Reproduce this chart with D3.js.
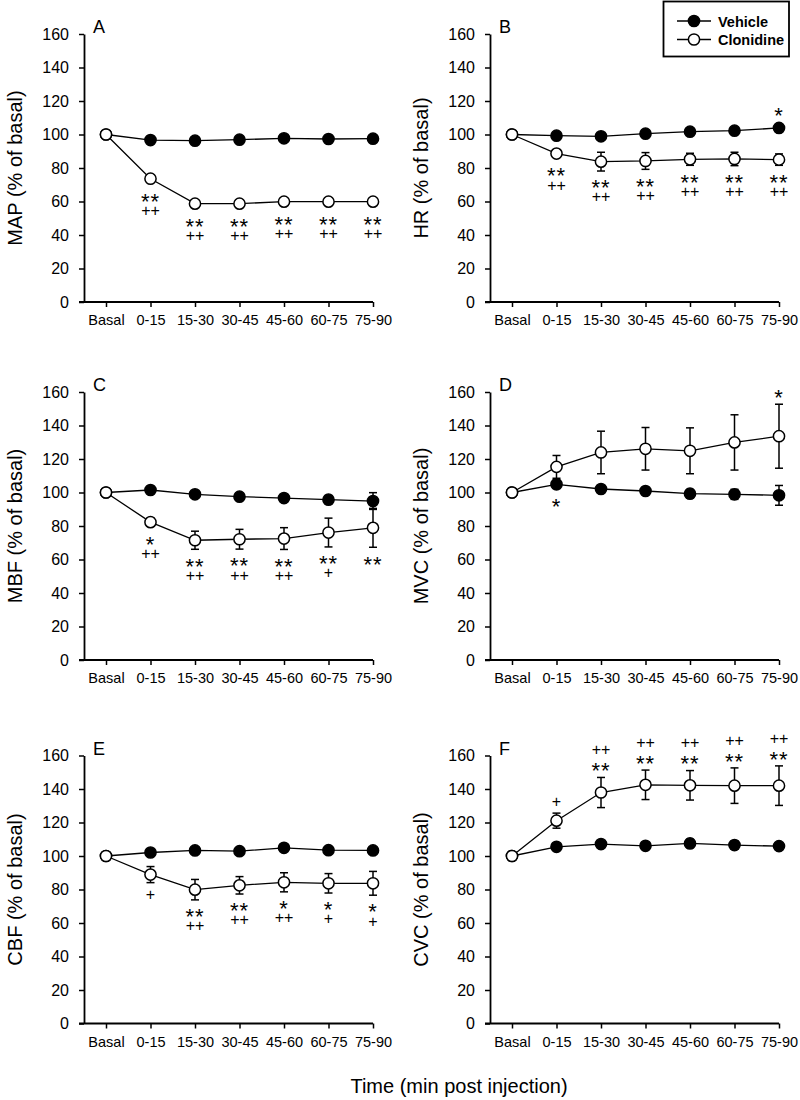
<!DOCTYPE html>
<html>
<head>
<meta charset="utf-8">
<script src="https://cdn.jsdelivr.net/npm/d3@7"></script>
<style>
  html, body { margin: 0; padding: 0; background: #fff; }
  svg { display: block; }
  text { font-family: "Liberation Sans", Arial, Helvetica, sans-serif; fill: #000; }
</style>
</head>
<body>
<script>
// ---------------- DATA ----------------
const categories = ["Basal", "0-15", "15-30", "30-45", "45-60", "60-75", "75-90"];
const yTicks = [0, 20, 40, 60, 80, 100, 120, 140, 160];
const panelLetters = ["A", "B", "C", "D", "E", "F"];
const yLabels = ["MAP (% of basal)", "HR (% of basal)", "MBF (% of basal)",
                 "MVC (% of basal)", "CBF (% of basal)", "CVC (% of basal)"];
const seriesNames = ["Vehicle", "Clonidine"];
const xTitle = "Time (min post injection)";

// Panel A – MAP
const vehicleMAP      = [100, 96.7, 96.3, 96.9, 97.7, 97.3, 97.5];
const vehicleMAPErr   = [0, 1, 1, 1, 1, 1, 1];
const clonidineMAP    = [100, 73.6, 58.7, 58.7, 59.9, 59.9, 59.9];
const clonidineMAPErr = [0, 2, 1.5, 1.5, 1.5, 1.5, 1.5];
const clonidineMAPSig = [[], ["**", "++"], ["**", "++"], ["**", "++"], ["**", "++"], ["**", "++"], ["**", "++"]];

// Panel B – HR
const vehicleHR      = [100, 99.3, 98.9, 100.5, 101.7, 102.3, 103.9];
const vehicleHRErr   = [0, 1.2, 1.5, 1.5, 1.5, 1.5, 1.5];
const clonidineHR    = [100, 88.6, 83.8, 84.2, 85.2, 85.4, 85.0];
const clonidineHRErr = [0, 2.2, 5.6, 5.0, 3.6, 4.0, 3.4];
const vehicleHRSig   = [[], [], [], [], [], [], ["*"]];
const clonidineHRSig = [[], ["**", "++"], ["**", "++"], ["**", "++"], ["**", "++"], ["**", "++"], ["**", "++"]];

// Panel C – MBF
const vehicleMBF      = [100, 101.5, 98.9, 97.5, 96.7, 95.7, 94.9];
const vehicleMBFErr   = [0, 1.5, 1.5, 1.5, 2, 2.5, 5];
const clonidineMBF    = [100, 82.3, 71.5, 72.1, 72.5, 76.1, 78.9];
const clonidineMBFErr = [0, 2.5, 5.4, 5.9, 6.5, 8.6, 11.6];
const clonidineMBFSig = [[], ["*", "++"], ["**", "++"], ["**", "++"], ["**", "++"], ["**", "+"], ["**"]];

// Panel D – MVC
const vehicleMVC      = [100, 104.9, 102.1, 100.9, 99.3, 98.9, 98.3];
const vehicleMVCErr   = [0, 2.5, 1.5, 1.5, 2.5, 3, 5.9];
const clonidineMVC    = [100, 115.3, 123.9, 126.1, 124.9, 129.9, 133.6];
const clonidineMVCErr = [0, 6.8, 12.7, 12.7, 13.7, 16.5, 19.1];
const vehicleMVCSig   = [[], ["*"], [], [], [], [], []];
const clonidineMVCSig = [[], [], [], [], [], [], ["*"]];

// Panel E – CBF
const vehicleCBF      = [100, 102.1, 103.3, 102.9, 104.9, 103.5, 103.3];
const vehicleCBFErr   = [0, 1.2, 1.5, 1.5, 2, 1.5, 1.5];
const clonidineCBF    = [100, 88.9, 79.9, 82.5, 84.3, 83.7, 83.7];
const clonidineCBFErr = [0, 4.8, 6.1, 5.2, 5.7, 5.8, 7.1];
const clonidineCBFSig = [[], ["+"], ["**", "++"], ["**", "++"], ["*", "++"], ["*", "+"], ["*", "+"]];

// Panel F – CVC
const vehicleCVC      = [100, 105.5, 107.1, 106.1, 107.5, 106.5, 105.9];
const vehicleCVCErr   = [0, 1.5, 1.5, 1.5, 2.5, 2.5, 1.5];
const clonidineCVC    = [100, 121.1, 137.9, 142.5, 142.2, 142.0, 142.0];
const clonidineCVCErr = [0, 4.5, 9.0, 8.8, 8.8, 10.6, 11.8];
const clonidineCVCSig = [[], ["+"], ["**", "++"], ["**", "++"], ["**", "++"], ["**", "++"], ["**", "++"]];

// ---------------- PANELS ----------------
const panels = [
  { letter: panelLetters[0], label: yLabels[0], veh: vehicleMAP, vehErr: vehicleMAPErr, clo: clonidineMAP, cloErr: clonidineMAPErr,
    cloSig: clonidineMAPSig, cloSigDir: "below", vehSig: null },
  { letter: panelLetters[1], label: yLabels[1], veh: vehicleHR, vehErr: vehicleHRErr, clo: clonidineHR, cloErr: clonidineHRErr,
    cloSig: clonidineHRSig, cloSigDir: "below", vehSig: vehicleHRSig, vehSigDir: "above" },
  { letter: panelLetters[2], label: yLabels[2], veh: vehicleMBF, vehErr: vehicleMBFErr, clo: clonidineMBF, cloErr: clonidineMBFErr,
    cloSig: clonidineMBFSig, cloSigDir: "below", vehSig: null },
  { letter: panelLetters[3], label: yLabels[3], veh: vehicleMVC, vehErr: vehicleMVCErr, clo: clonidineMVC, cloErr: clonidineMVCErr,
    cloSig: clonidineMVCSig, cloSigDir: "above", vehSig: vehicleMVCSig, vehSigDir: "below" },
  { letter: panelLetters[4], label: yLabels[4], veh: vehicleCBF, vehErr: vehicleCBFErr, clo: clonidineCBF, cloErr: clonidineCBFErr,
    cloSig: clonidineCBFSig, cloSigDir: "below", vehSig: null },
  { letter: panelLetters[5], label: yLabels[5], veh: vehicleCVC, vehErr: vehicleCVCErr, clo: clonidineCVC, cloErr: clonidineCVCErr,
    cloSig: clonidineCVCSig, cloSigDir: "above", vehSig: null }
];

// ---------------- LAYOUT ----------------
const W = 800, H = 1100;
const colX = [84, 490];
const rowY = [34, 392, 755.5];
const plotH = 268;
const xFirst = 22, xLast = 289;
const R = 5.6;

const svg = d3.select("body").append("svg").attr("width", W).attr("height", H);

const y = d3.scaleLinear().domain([0, 160]).range([plotH, 0]);
const x = d3.scalePoint().domain(categories).range([xFirst, xLast]);

// one <text> per annotation, each line a <tspan>
function drawSig(g, lines, cx, anchorY, dir) {
  const t = g.append("text").attr("text-anchor", "middle");
  lines.forEach((s, k) => {
    const isStar = s.indexOf("*") >= 0;
    const fs = isStar ? 22 : 16;
    const step = dir === "below" ? 14.3 : -16;
    const cy = anchorY + k * step;
    const base = cy + (isStar ? 0.58 : 0.35) * fs;
    t.append("tspan")
      .attr("x", cx).attr("y", base)
      .style("font-size", fs + "px")
      .style("letter-spacing", isStar ? "1px" : "0px")
      .text(s);
  });
}

panels.forEach((p, i) => {
  const col = i % 2, row = Math.floor(i / 2);
  const g = svg.append("g").attr("transform", `translate(${colX[col]},${rowY[row]})`);

  // Y axis
  const yAxis = d3.axisLeft(y).tickValues(yTicks).tickSize(5).tickSizeOuter(0).tickPadding(10);
  const ya = g.append("g").call(yAxis);
  ya.select(".domain").attr("stroke-width", 1.8);
  ya.selectAll(".tick line").attr("stroke-width", 1.5);
  ya.selectAll(".tick text").style("font-size", "16px").style("font-family", '"Liberation Sans", Arial, sans-serif').attr("fill", "#000");

  // X axis
  const xAxis = d3.axisBottom(x).tickSize(5).tickSizeOuter(0).tickPadding(8);
  const xa = g.append("g").attr("transform", `translate(0,${plotH})`).call(xAxis);
  xa.select(".domain").remove();
  xa.append("line").attr("x1", -5).attr("x2", xLast).attr("y1", 0).attr("y2", 0)
    .attr("stroke", "#000").attr("stroke-width", 1.8);
  xa.selectAll(".tick line").attr("stroke-width", 1.5);
  xa.selectAll(".tick text").style("font-size", "14.5px").style("font-family", '"Liberation Sans", Arial, sans-serif').attr("fill", "#000");

  // Y label
  g.append("text")
    .attr("transform", `translate(-62,${plotH / 2}) rotate(-90)`)
    .attr("text-anchor", "middle")
    .style("font-size", "20px")
    .text(p.label);

  // Panel letter
  g.append("text").attr("x", 9).attr("y", -1).style("font-size", "18px").text(p.letter);

  const line = d3.line().x((d, j) => x(categories[j])).y(d => y(d));

  const series = [
    { vals: p.veh, err: p.vehErr, fill: "#000" },
    { vals: p.clo, err: p.cloErr, fill: "#fff" }
  ];

  series.forEach(s => {
    g.append("path").datum(s.vals).attr("d", line)
      .attr("fill", "none").attr("stroke", "#000").attr("stroke-width", 1.3);
  });

  series.forEach(s => {
    s.vals.forEach((v, j) => {
      const e = s.err[j];
      if (!e) return;
      const cx = x(categories[j]);
      const eg = g.append("g").attr("stroke", "#000").attr("stroke-width", 1.5);
      eg.append("line").attr("x1", cx).attr("x2", cx).attr("y1", y(v + e)).attr("y2", y(v - e));
      eg.append("line").attr("x1", cx - 4).attr("x2", cx + 4).attr("y1", y(v + e)).attr("y2", y(v + e));
      eg.append("line").attr("x1", cx - 4).attr("x2", cx + 4).attr("y1", y(v - e)).attr("y2", y(v - e));
    });
  });

  series.forEach(s => {
    g.selectAll(null).data(s.vals).enter().append("circle")
      .attr("cx", (d, j) => x(categories[j]))
      .attr("cy", d => y(d))
      .attr("r", R)
      .attr("fill", s.fill).attr("stroke", "#000").attr("stroke-width", 1.5);
  });

  function placeSig(sig, vals, errs, dir) {
    if (!sig) return;
    sig.forEach((lines, j) => {
      if (!lines.length) return;
      const v = vals[j], e = errs[j];
      const cx = x(categories[j]);
      let anchor;
      if (dir === "below") anchor = Math.max(y(v - e), y(v) + R) + 11.5;
      else anchor = Math.min(y(v + e), y(v) - R) - 12;
      drawSig(g, lines, cx, anchor, dir);
    });
  }
  placeSig(p.cloSig, p.clo, p.cloErr, p.cloSigDir);
  placeSig(p.vehSig, p.veh, p.vehErr, p.vehSigDir);
});

// Legend
const lg = svg.append("g");
lg.append("rect").attr("x", 663.5).attr("y", 1.5).attr("width", 125.5).attr("height", 55)
  .attr("fill", "#fff").attr("stroke", "#000").attr("stroke-width", 1.8);
seriesNames.forEach((name, k) => {
  const ly = 21 + k * 18.5;
  lg.append("line").attr("x1", 677).attr("x2", 711).attr("y1", ly).attr("y2", ly)
    .attr("stroke", "#000").attr("stroke-width", 1.5);
  lg.append("circle").attr("cx", 694).attr("cy", ly).attr("r", R)
    .attr("fill", k === 0 ? "#000" : "#fff").attr("stroke", "#000").attr("stroke-width", 1.5);
  lg.append("text").attr("x", 718).attr("y", ly + 5.5)
    .style("font-size", "14.5px").style("font-weight", "bold").text(name);
});

// X title
svg.append("text").attr("x", 459).attr("y", 1093).attr("text-anchor", "middle")
  .style("font-size", "20px").text(xTitle);
</script>
</body>
</html>
